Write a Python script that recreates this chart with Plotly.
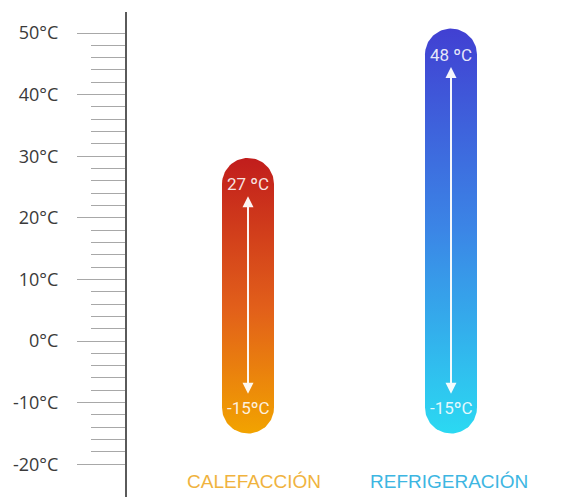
import numpy as np
import plotly.graph_objects as go

# Operating ranges of the heat pump
categories = ["CALEFACCIÓN", "REFRIGERACIÓN"]
max_temp = [27, 48]
min_temp = [-15, -15]
max_labels = ["27 ºC", "48 ºC"]
min_labels = ["-15ºC", "-15ºC"]

# Temperature scale
major_ticks = [-20, -10, 0, 10, 20, 30, 40, 50]
major_text = ["-20°C", "-10°C", "0°C", "10°C", "20°C", "30°C", "40°C", "50°C"]
minor_ticks = [v for v in range(-20, 51, 2) if v % 10 != 0]

# Layout geometry (x axis works in page pixels)
W, H = 573, 497
PX_PER_DEG = 6.16
ZERO_PX = 341
TOP_PX = 12
y_hi_range = (ZERO_PX - TOP_PX) / PX_PER_DEG
y_lo_range = (ZERO_PX - H) / PX_PER_DEG

bar_x = [248, 451]
name_x = [254, 449]
bar_radius_px = 26
text_colors = ["#f0b33e", "#3db6e2"]
gradients = [
    [[0, "#f2a300"], [0.45, "#e2601a"], [1, "#c11d1c"]],
    [[0, "#2bd9f2"], [0.5, "#3b86e6"], [1, "#4140d2"]],
]


def pill(cx, y_lo, y_hi, r_px):
    r_y = r_px / PX_PER_DEG
    t = np.linspace(0, np.pi, 48)
    xs_top = cx + r_px * np.cos(t)
    ys_top = y_hi + r_y * np.sin(t)
    xs_bot = cx + r_px * np.cos(t + np.pi)
    ys_bot = y_lo + r_y * np.sin(t + np.pi)
    xs = np.concatenate([xs_top, xs_bot, xs_top[:1]])
    ys = np.concatenate([ys_top, ys_bot, ys_top[:1]])
    return xs, ys


fig = go.Figure()
annotations = []

for i, name in enumerate(categories):
    cx = bar_x[i]
    cap_hi = max_temp[i] - 1.5
    cap_lo = min_temp[i] + 4.2
    xs, ys = pill(cx, cap_lo, cap_hi, bar_radius_px)
    fig.add_trace(go.Scatter(
        x=xs, y=ys, mode="lines", fill="toself",
        line=dict(width=0, color="rgba(0,0,0,0)"),
        fillgradient=dict(type="vertical", colorscale=gradients[i]),
        hoverinfo="skip", showlegend=False,
    ))
    # value labels inside the caps
    for yv, txt in [(cap_hi, max_labels[i]), (cap_lo, min_labels[i])]:
        annotations.append(dict(
            x=cx, y=yv, xref="x", yref="y", text=txt, showarrow=False,
            font=dict(family="Roboto", size=17, color="rgba(255,255,255,0.88)"),
            xanchor="center", yanchor="middle",
        ))
    # double-headed range arrow
    annotations.append(dict(
        x=cx, y=cap_hi - 2.0, ax=cx, ay=cap_lo + 2.0,
        xref="x", yref="y", axref="x", ayref="y",
        text="", showarrow=True, arrowside="end+start",
        arrowhead=2, arrowsize=1.1, arrowwidth=2,
        arrowcolor="rgba(255,255,255,0.95)", standoff=0, startstandoff=0,
    ))
    # category name under the bar
    annotations.append(dict(
        x=name_x[i], y=(ZERO_PX - 481) / PX_PER_DEG, xref="x", yref="y",
        text=name, showarrow=False,
        font=dict(family="Liberation Sans", size=19, color=text_colors[i]),
        xanchor="center", yanchor="middle",
    ))

fig.update_layout(
    width=W, height=H,
    margin=dict(l=0, r=0, t=0, b=0),
    paper_bgcolor="white", plot_bgcolor="white",
    showlegend=False,
    annotations=annotations,
    xaxis=dict(range=[0, W], domain=[0, 1], visible=False, fixedrange=True),
    yaxis=dict(
        range=[y_lo_range, y_hi_range],
        domain=[0, 1 - TOP_PX / H],
        anchor="free", position=126 / W,
        showgrid=False, zeroline=False,
        showline=True, linecolor="#5a5a5a", linewidth=2,
        tickmode="array", tickvals=major_ticks, ticktext=major_text,
        ticks="outside", ticklen=48, tickwidth=1, tickcolor="#a8a8a8",
        ticklabelstandoff=15,
        tickfont=dict(family="Open Sans", size=18, color="#3a3a3a"),
        minor=dict(
            tickmode="array", tickvals=minor_ticks,
            ticks="outside", ticklen=34, tickwidth=1, tickcolor="#a8a8a8",
        ),
        fixedrange=True,
    ),
)

fig.write_html("out.html")
